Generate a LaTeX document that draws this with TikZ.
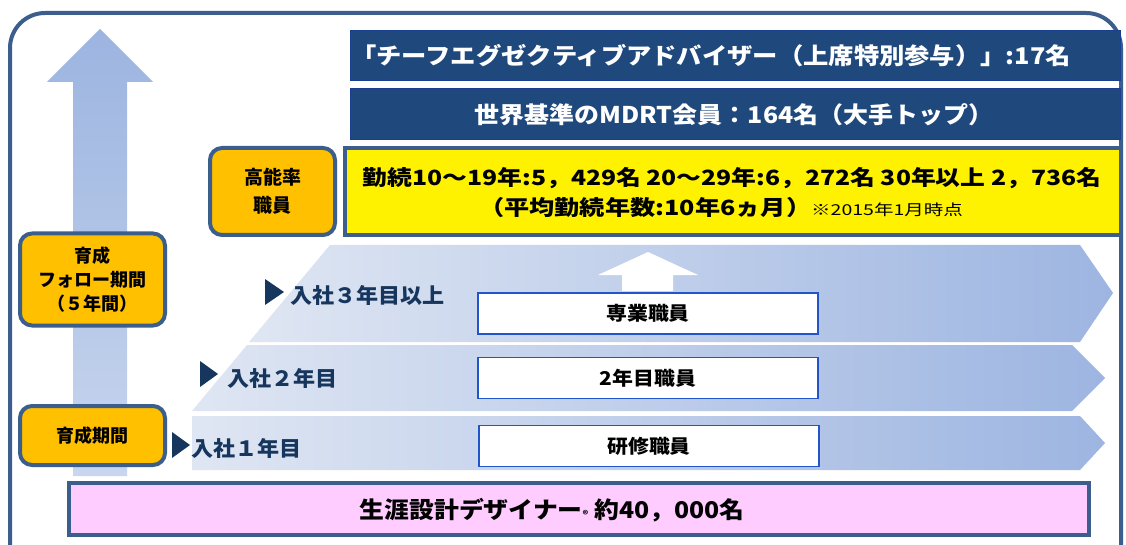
\documentclass[tikz,border=0pt]{standalone}
\usepackage{fontspec}
\usepackage{graphicx}
\setmainfont{Noto Sans CJK JP}
\definecolor{bordc}{HTML}{3B5E8C}
\definecolor{navy}{HTML}{1F497D}
\definecolor{lab}{HTML}{17365D}
\definecolor{orng}{HTML}{FFC000}
\definecolor{pinkf}{HTML}{FFCCFF}
\definecolor{chl}{HTML}{DFE6F3}
\definecolor{chr}{HTML}{9DB5E1}
\definecolor{arrtop}{HTML}{9CB4E0}
\definecolor{arrbot}{HTML}{C8D6EE}
\definecolor{wbord}{HTML}{2255CC}
\newcommand{\fsz}[1]{\fontsize{#1}{#1}\selectfont}
\newcommand{\wide}[2]{\scalebox{#1}[1]{#2}}
\tikzset{
  orangebox/.style={draw=bordc, line width=4pt, fill=orng, rounded corners=12pt,
    align=center, inner sep=0pt},
  navybar/.style={draw=navy!85!blue, line width=1pt, fill=navy, inner sep=0pt},
  bartext/.style={text=white, inner sep=0pt, font=\fsz{23}\bfseries},
  whitebox/.style={draw=wbord, line width=1.5pt, fill=white, inner sep=0pt,
    minimum width=340pt, minimum height=41pt, font=\fsz{19}\bfseries},
  rowlabel/.style={anchor=west, text=lab, inner sep=0pt, font=\fsz{21}\bfseries},
  chevron/.style={left color=chl, right color=chr, draw=none},
}
\begin{document}
\begin{tikzpicture}[x=1pt,y=-1pt]
\useasboundingbox (0,0) rectangle (1126,545);
\clip (0,0) rectangle (1126,545);
\fill[white] (0,0) rectangle (1126,545);
% outer frame
\draw[bordc, line width=4pt, rounded corners=35pt] (10,13) rectangle (1121,585);
% big up arrow
\shade[top color=arrtop, bottom color=arrbot]
  (73,476) -- (73,82) -- (47,82) -- (100,29) -- (153,82) -- (127,82) -- (127,476) -- cycle;
% chevrons
\shade[chevron] (330,245) -- (1080,245) -- (1113,293) -- (1080,342) -- (249,342) -- cycle;
\shade[chevron] (247,345) -- (1072,345) -- (1105,378) -- (1072,411) -- (192,411) -- cycle;
\shade[chevron] (192,416) -- (1080,416) -- (1105,443) -- (1080,470) -- (192,470) -- cycle;
% white up arrow
\fill[white] (622,291) -- (622,275) -- (598,275) -- (648,252) -- (698,275) -- (673,275) -- (673,291) -- cycle;
% navy bars
\node[navybar, minimum width=770pt, minimum height=50pt] (chief) at (735,55.5) {};
\node[bartext] (chieft) at (711,56)
  {\wide{1.1}{「チーフエグゼクティブアドバイザー（上席特別参与）」:17名}};
\node[navybar, minimum width=770pt, minimum height=51pt] (mdrt) at (735,114.5) {};
\node[bartext] (mdrtt) at (734,115)
  {\wide{1.085}{世界基準のMDRT会員：164名（大手トップ）}};
% yellow box
\node[draw=bordc, line width=4pt, fill=yellow, minimum width=776pt, minimum height=87pt, inner sep=0pt] (yel) at (733,191.5) {};
\node[inner sep=0pt, font=\fsz{21}\bfseries] (yl1) at (732,178)
  {\wide{1.18}{勤続10～19年:5，429名\ 20～29年:6，272名\ 30年以上\ 2，736名}};
\node[inner sep=0pt, font=\fsz{21}\bfseries] (yl2) at (721,208)
  {\wide{1.2}{（平均勤続年数:10年6ヵ月）}\wide{1.3}{\fsz{15}\mdseries ※2015年1月時点}};
% orange boxes
\node[orangebox, minimum width=125pt, minimum height=87pt, font=\fontsize{19}{28}\selectfont\bfseries] (hn) at (272.5,191.5) {高能率\\職員};
\node[orangebox, minimum width=145pt, minimum height=92pt, font=\fontsize{18}{24}\selectfont\bfseries] (fol) at (92.5,279.5) {育成\\フォロー期間\\（５年間）};
\node[orangebox, minimum width=145pt, minimum height=59pt, font=\fsz{18}\bfseries] (ik) at (92.5,435.5) {育成期間};
% row labels
\fill[lab] (265,279) -- (284,292) -- (265,305) -- cycle;
\node[rowlabel] (l3) at (290,295) {\wide{1.05}{入社３年目以上}};
\fill[lab] (200,361) -- (218,374) -- (200,387) -- cycle;
\node[rowlabel] (l2) at (227,378) {\wide{1.05}{入社２年目}};
\fill[lab] (172,432) -- (190,445) -- (172,458) -- cycle;
\node[rowlabel] (l1) at (191,448) {\wide{1.05}{入社１年目}};
% white boxes
\node[whitebox] (sen) at (648,313.5) {\wide{1.1}{専業職員}};
\node[whitebox] (y2) at (648,378) {\wide{1.1}{2年目職員}};
\node[whitebox] (ken) at (649,446) {\wide{1.1}{研修職員}};
% pink box
\node[draw=bordc, line width=4pt, fill=pinkf, minimum width=1020pt, minimum height=52pt,
  inner sep=0pt] (pink) at (579,509) {};
\node[inner sep=0pt, font=\fsz{23}\bfseries] (pinkt) at (552,510)
  {\wide{1.08}{生涯設計デザイナー{\fsz{10}®}\ 約40，000名}};
\end{tikzpicture}
\end{document}
